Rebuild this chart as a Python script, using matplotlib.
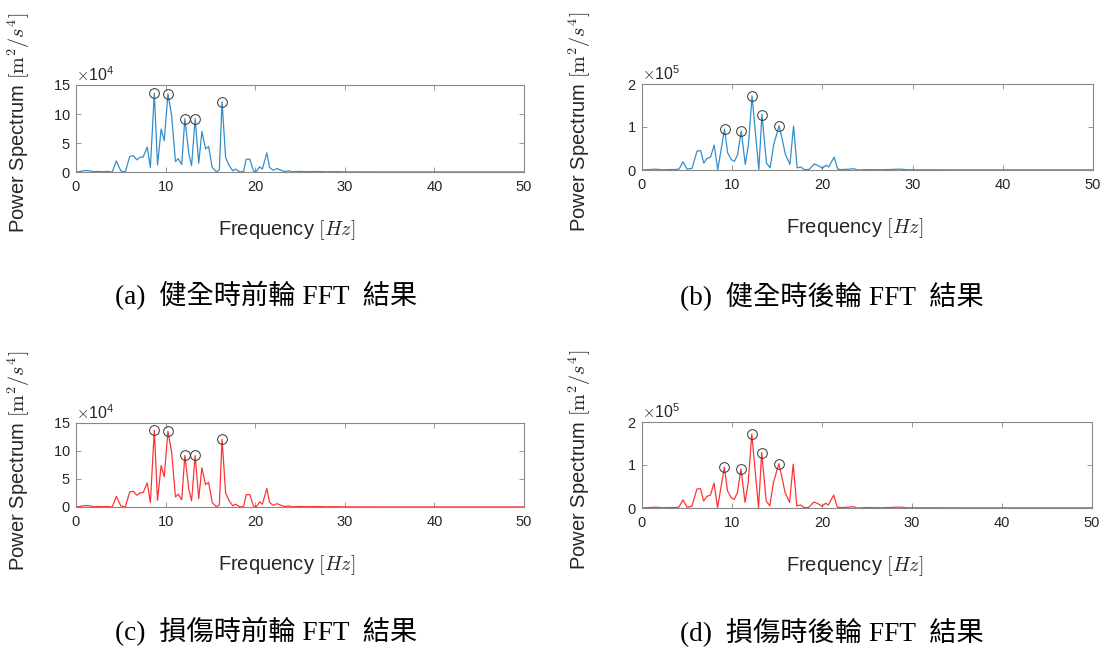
import numpy as np
import matplotlib
matplotlib.use("Agg")
import matplotlib.pyplot as plt

plt.rcParams['font.family'] = ['Liberation Sans', 'DejaVu Sans']
plt.rcParams['mathtext.fontset'] = 'cm'

# ---------------- data ----------------
freq_front = [0, 0.5, 1.0, 1.5, 2.0, 2.5, 3.0, 3.5, 4.05, 4.5, 5.0, 5.5, 6.0, 6.4, 6.8, 7.1, 7.5, 7.95, 8.3,
              8.74, 9.1, 9.5, 9.85, 10.26, 10.67, 11.1, 11.4, 11.8, 12.15, 12.6, 12.9, 13.3, 13.7, 14.05,
              14.46, 14.8, 15.2, 15.7, 16.0, 16.3, 16.7, 17.1, 17.5, 17.8, 18.3, 18.7, 19.0, 19.4, 19.8,
              20.1, 20.5, 20.8, 21.3, 21.6, 22.0, 22.45, 22.8, 23.3, 23.7, 24.2, 25, 26, 27, 28, 29, 30,
              32, 35, 40, 45, 50]
# power in units of 1e4 m^2/s^4
power_front_healthy = [0, 0.1, 0.25, 0.2, 0.05, 0.1, 0.05, 0.1, 0, 1.9, 0.2, 0, 2.7, 2.8, 2.1, 2.5, 2.6, 4.3, 0.8,
                       13.6, 1.2, 7.4, 5.4, 13.5, 9.8, 1.8, 2.3, 1.3, 9.2, 3.1, 1.1, 9.2, 1.5, 7.0,
                       4.0, 4.4, 0.8, 0, 0.4, 12.1, 2.5, 1.1, 0.2, 0.5, 0, 0.1, 2.2, 2.2, 0.2,
                       0, 0.9, 0.5, 3.3, 0.8, 0.3, 0.6, 0.35, 0.06, 0.2, 0.03, 0.1, 0.05, 0.08, 0.04, 0.06, 0.02,
                       0.02, 0.01, 0.01, 0.01, 0.01]
power_front_damaged = [0, 0.1, 0.25, 0.2, 0.05, 0.1, 0.05, 0.1, 0, 1.9, 0.2, 0, 2.7, 2.8, 2.1, 2.5, 2.6, 4.3, 0.8,
                       13.7, 1.2, 7.4, 5.4, 13.5, 9.8, 1.8, 2.3, 1.3, 9.2, 3.1, 1.1, 9.2, 1.5, 7.0,
                       4.0, 4.4, 0.8, 0, 0.4, 12.1, 2.5, 1.1, 0.2, 0.5, 0, 0.1, 2.2, 2.2, 0.2,
                       0, 0.9, 0.5, 3.3, 0.8, 0.3, 0.6, 0.35, 0.06, 0.2, 0.03, 0.1, 0.05, 0.08, 0.04, 0.06, 0.02,
                       0.02, 0.01, 0.01, 0.01, 0.01]
peaks_front = [8.74, 10.26, 12.15, 13.3, 16.3]

freq_rear = [0, 0.8, 1.5, 2.2, 3.0, 3.6, 4.1, 4.55, 5.0, 5.55, 6.1, 6.5, 6.85, 7.2, 7.6, 8.0, 8.4, 9.15, 9.5, 9.9,
             10.25, 10.6, 11.0, 11.45, 11.8, 12.2, 12.95, 13.3, 13.8, 14.2, 14.6, 15.2, 15.55, 15.9, 16.4,
             16.8, 17.2, 17.6, 18.0, 18.5, 19.1, 19.55, 20.0, 20.4, 20.7, 21.3, 21.7, 22.2, 23.0, 23.5,
             23.9, 25, 26.5, 28.6, 29.5, 32, 35, 40, 45, 50]
# power in units of 1e5 m^2/s^4
power_rear_healthy = [0, 0.01, 0.02, 0.005, 0.01, 0.01, 0.02, 0.19, 0.02, 0.04, 0.44, 0.45, 0.16, 0.27, 0.30, 0.58,
                      0.01, 0.95, 0.40, 0.24, 0.20, 0.36, 0.91, 0.13, 0.59, 1.72, 0.01, 1.29, 0.16, 0.05,
                      0.59, 1.03, 0.71, 0.36, 0.13, 1.02, 0.05, 0.07, 0.01, 0.01, 0.14, 0.10, 0.04, 0.11, 0.07,
                      0.30, 0.02, 0.01, 0.02, 0.03, 0, 0.01, 0.005, 0.02, 0.005, 0.005, 0.003, 0.003, 0.003, 0.003]
power_rear_damaged = list(power_rear_healthy)
peaks_rear = [9.15, 11.0, 12.2, 13.3, 15.2]

captions = ["(a)  健全時前輪 FFT  結果", "(b)  健全時後輪 FFT  結果",
            "(c)  損傷時前輪 FFT  結果", "(d)  損傷時後輪 FFT  結果"]

# ---------------- figure ----------------
W, H = 1107, 648
fig = plt.figure(figsize=(W / 100, H / 100), dpi=100)
fig.patch.set_facecolor('white')

def px_axes(l, t, r, b):
    return fig.add_axes([l / W, 1 - b / H, (r - l) / W, (b - t) / H])

panels = [
    dict(box=(76, 85, 524, 172), f=freq_front, p=power_front_healthy, pk=peaks_front, scale=1e4,
         order=4, ymax=15, yt=[0, 5, 10, 15], color='#0072BD'),
    dict(box=(642, 84, 1093, 170), f=freq_rear, p=power_rear_healthy, pk=peaks_rear, scale=1e5,
         order=5, ymax=2, yt=[0, 1, 2], color='#0072BD'),
    dict(box=(76, 423, 524, 507), f=freq_front, p=power_front_damaged, pk=peaks_front, scale=1e4,
         order=4, ymax=15, yt=[0, 5, 10, 15], color='#FF0000'),
    dict(box=(642, 422, 1092, 508), f=freq_rear, p=power_rear_damaged, pk=peaks_rear, scale=1e5,
         order=5, ymax=2, yt=[0, 1, 2], color='#FF0000'),
]

tick_col = '#262626'
for i, pn in enumerate(panels):
    ax = px_axes(*pn['box'])
    f = np.array(pn['f'])
    p = np.array(pn['p']) * pn['scale']
    ax.plot(f, p, color=pn['color'], lw=0.9, alpha=0.8)
    idx = [int(np.argmin(np.abs(f - q))) for q in pn['pk']]
    ax.plot(f[idx], p[idx], linestyle='none', marker='o', ms=7, mfc='none',
            mec='#333333', mew=0.7)
    ax.set_xlim(0, 50)
    ax.set_ylim(0, pn['ymax'] * pn['scale'])
    ax.set_xticks([0, 10, 20, 30, 40, 50])
    ax.set_yticks([v * pn['scale'] for v in pn['yt']])
    ax.ticklabel_format(axis='y', style='sci', scilimits=(pn['order'], pn['order']), useMathText=True)
    ax.yaxis.get_offset_text().set_fontsize(11.5)
    ax.yaxis.get_offset_text().set_color(tick_col)
    ax.tick_params(direction='in', top=True, right=True, length=3.5, width=0.6,
                   colors='#888888', labelcolor=tick_col, labelsize=10.5)
    ax.tick_params(axis='x', pad=5.5)
    ax.tick_params(axis='y', pad=4)
    for s in ax.spines.values():
        s.set_color('#888888')
        s.set_linewidth(0.8)

    l, t, r, b = pn['box']
    left_side = (i % 2 == 0)
    yl_x = 19 if left_side else 580
    fig.text(yl_x / W, 1 - (t + 38) / H, r'Power Spectrum $[\mathrm{m}^2/s^4]$',
             rotation=90, ha='center', va='center', fontsize=14.5, color=tick_col)
    xl_x = 287 if left_side else 855
    fig.text(xl_x / W, 1 - (b + 58) / H, r'Frequency $[Hz]$', ha='center', va='center',
             fontsize=14.5, color=tick_col)
    cap_x = 115 if left_side else 680
    cap_y = 296 if i < 2 else 632
    fig.text(cap_x / W, 1 - cap_y / H, captions[i], ha='left', va='center', fontsize=19.6,
             family=['Liberation Serif', 'Noto Sans CJK TC'], color='black')

fig.savefig('out.png', dpi=100, facecolor='white')
